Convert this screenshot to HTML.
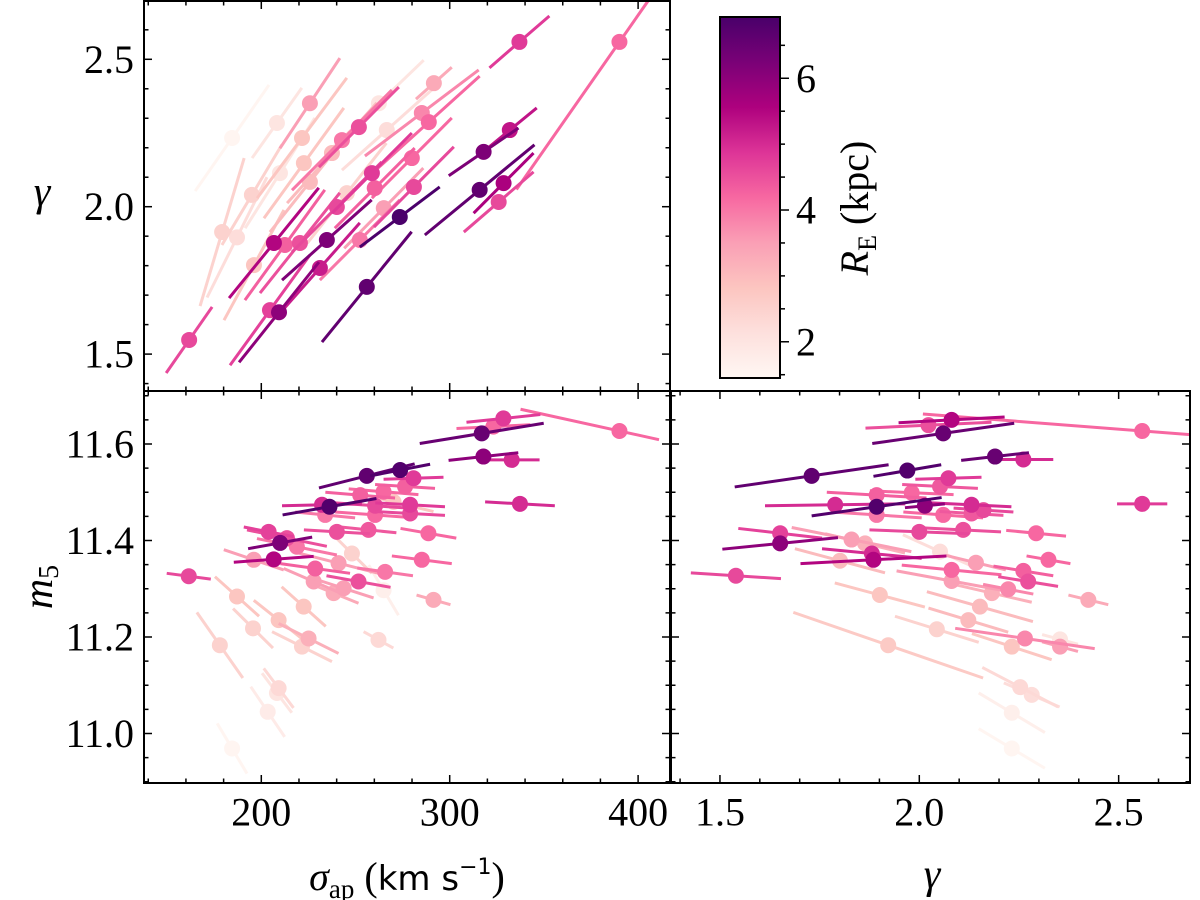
<!DOCTYPE html>
<html><head><meta charset="utf-8">
<style>
html,body{margin:0;padding:0;background:#fff;}
svg{display:block;}
text{font-family:"Liberation Serif","DejaVu Serif",serif;fill:#000;}
</style></head>
<body>
<svg id="fig" width="1200" height="900" viewBox="0 0 1200 900" xmlns="http://www.w3.org/2000/svg">
<defs>
<linearGradient id="cbgrad" x1="0" y1="1" x2="0" y2="0">
<stop offset="0" stop-color="#fff7f3"/><stop offset="0.125" stop-color="#fde0dd"/><stop offset="0.25" stop-color="#fcc5c0"/><stop offset="0.375" stop-color="#fa9fb5"/><stop offset="0.5" stop-color="#f768a1"/><stop offset="0.625" stop-color="#dd3497"/><stop offset="0.75" stop-color="#ae017e"/><stop offset="0.875" stop-color="#7a0177"/><stop offset="1" stop-color="#49006a"/>
</linearGradient>
<clipPath id="c1"><rect x="144" y="1" width="526" height="390"/></clipPath>
<clipPath id="c2"><rect x="144" y="391" width="526" height="392"/></clipPath>
<clipPath id="c3"><rect x="671" y="391" width="519" height="392"/></clipPath>
</defs>
<g id="p1"></g>
<g id="p2"></g>
<g id="p3"></g>
<g id="cb"></g>
<text x="42" y="196" font-size="42" font-style="italic" text-anchor="middle" dominant-baseline="middle">γ</text>
<text transform="translate(42,587) rotate(-90)" font-size="42" text-anchor="middle" dominant-baseline="middle"><tspan font-style="italic">m</tspan><tspan font-size="28" dy="10">5</tspan></text>
<text x="407" y="890" font-size="40" text-anchor="middle"><tspan font-style="italic">σ</tspan><tspan font-size="27" dy="8">ap</tspan><tspan dy="-8"> (</tspan><tspan font-family="DejaVu Sans, sans-serif" font-size="34">km s</tspan><tspan font-family="DejaVu Sans, sans-serif" font-size="22" dy="-16">−1</tspan><tspan dy="16">)</tspan></text>
<text x="932" y="888" font-size="42" font-style="italic" text-anchor="middle">γ</text>
<text transform="translate(868,208) rotate(-90)" font-size="40" text-anchor="middle"><tspan font-style="italic">R</tspan><tspan font-size="26" dy="8">E</tspan><tspan dy="-8"> (kpc)</tspan></text>
</svg>
<script>
// ---------- Panel 1: gamma vs sigma ----------
const p1Sigma=[337.0,390.1,291.6,225.8,262.4,285.2,288.9,184.5,208.3,266.6,251.8,221.6,331.9,318.0,242.8,237.5,222.6,279.9,209.9,315.9,328.6,326.0,260.2,281.0,195.0,225.8,258.7,179.2,187.1,196.1,206.7,212.5,220.5,234.8,231.1,252.3,240.1,256.0,273.5,204.6,209.4,161.7,265.0,245.4];
const p1Gamma=[2.559,2.559,2.419,2.351,2.351,2.318,2.287,2.233,2.284,2.260,2.270,2.233,2.260,2.186,2.226,2.182,2.148,2.165,2.114,2.057,2.080,2.016,2.063,2.067,2.040,2.084,2.114,1.914,1.896,1.802,1.877,1.870,1.877,1.887,1.792,1.887,1.999,1.728,1.965,1.649,1.642,1.548,1.995,2.046];
const p1RE=[4.8,4.2,3.3,3.5,2.0,3.8,4.2,1.5,2.0,2.2,4.5,2.8,5.3,6.2,4.0,3.0,2.8,4.2,2.0,6.6,5.6,4.6,4.3,4.6,2.5,3.0,4.8,2.5,2.2,2.8,5.5,4.3,4.5,6.2,5.2,4.0,4.6,6.6,6.9,4.7,6.0,4.6,3.5,2.5];
const p1ErrSigma=[15.9,15.4,9.5,15.9,23.8,30.2,27.0,19.6,13.2,23.8,21.2,23.8,14.3,18.5,26.5,23.8,21.2,21.2,18.5,29.1,15.9,18.5,21.2,21.2,15.9,21.2,21.2,11.7,15.9,15.9,23.8,21.2,21.2,23.8,21.2,21.2,23.8,23.8,21.2,21.2,21.2,12.2,21.0,21.0];
const p1ErrGamma=[0.088,0.141,0.054,0.153,0.146,0.146,0.156,0.180,0.119,0.136,0.136,0.204,0.075,0.081,0.170,0.170,0.187,0.136,0.187,0.153,0.102,0.102,0.136,0.136,0.170,0.170,0.136,0.251,0.204,0.187,0.187,0.187,0.170,0.136,0.153,0.136,0.153,0.187,0.102,0.187,0.170,0.112,0.136,0.170];
const p1LowerScale={1:3.55};
// ---------- Panel 2: m5 vs sigma ----------
const p2Sigma=[328.5,323.2,317.0,317.9,332.9,256.0,273.7,280.8,276.3,264.9,252.5,232.2,236.2,233.9,260.4,260.4,279.0,279.0,270.2,337.3,240.1,256.9,288.7,203.9,213.6,218.9,206.6,196.0,210.0,161.5,228.6,241.0,248.1,265.7,285.2,227.8,251.6,243.7,238.4,264.9,291.4,187.1,222.5,195.6,209.2,225.1,221.6,262.2,178.0,209.2,208.3,203.4,184.5,390.1];
const p2M5=[11.653,11.636,11.622,11.574,11.567,11.534,11.546,11.529,11.512,11.501,11.494,11.474,11.470,11.453,11.472,11.453,11.474,11.456,11.480,11.476,11.418,11.422,11.415,11.418,11.405,11.387,11.361,11.360,11.395,11.326,11.342,11.353,11.373,11.335,11.360,11.315,11.315,11.301,11.291,11.297,11.277,11.284,11.263,11.218,11.235,11.197,11.180,11.194,11.183,11.094,11.084,11.045,10.969,11.627];
const p2RE=[4.8,4.2,6.5,6.0,5.0,6.6,6.8,4.8,4.3,4.2,4.3,5.0,6.8,4.0,4.6,4.2,4.8,4.6,2.8,5.0,4.5,4.4,4.2,4.7,4.5,4.0,5.5,3.5,6.2,4.6,4.3,3.5,2.5,4.0,4.2,3.5,4.5,3.5,3.3,1.7,3.3,2.8,2.8,2.5,2.8,3.2,2.5,2.3,2.5,2.3,2.0,1.8,1.5,4.2];
const p2ErrSigma=[19.6,19.6,32.9,18.5,14.8,25.4,15.9,15.9,15.9,18.5,18.5,21.2,24.9,15.9,21.2,21.2,18.5,18.5,21.2,18.5,17.5,14.8,14.8,13.2,21.2,21.2,21.2,15.9,17.0,11.7,18.5,21.2,10.6,14.8,15.9,15.9,17.0,15.9,13.2,7.9,9.0,11.7,11.7,10.6,13.2,15.9,15.9,7.9,12.2,7.9,7.9,9.0,7.9,21.0];
const p2ErrM5=[0.008,0.004,0.021,0.008,0,0.025,0.012,0.002,-0.004,-0.006,-0.006,0.002,0.017,-0.006,-0.006,-0.006,-0.004,-0.004,-0.02,-0.004,-0.004,-0.006,-0.01,-0.01,-0.017,-0.017,0.006,-0.021,0.012,-0.006,-0.01,-0.021,-0.041,-0.008,-0.008,-0.027,-0.012,-0.02,-0.021,-0.052,-0.01,-0.041,-0.041,-0.041,-0.041,-0.031,-0.031,-0.017,-0.068,-0.041,-0.041,-0.052,-0.052,-0.018];
const p2LowerScale={53:2.5};
// ---------- Panel 3: m5 vs gamma ----------
const p3Gamma=[2.023,2.081,2.060,2.559,2.190,2.261,1.730,1.970,2.073,2.052,1.981,1.893,1.789,1.893,1.893,2.014,2.060,2.131,2.161,2.131,2.000,2.110,2.293,1.651,1.651,1.830,1.864,1.881,1.885,1.801,1.540,2.052,2.142,2.324,2.081,2.081,2.261,2.273,2.223,2.182,2.424,1.901,2.152,2.123,2.044,2.265,2.232,2.353,2.353,1.922,2.253,2.282,2.232,2.232,2.559];
const p3M5=[11.639,11.650,11.622,11.627,11.574,11.568,11.534,11.545,11.529,11.512,11.499,11.494,11.474,11.470,11.453,11.472,11.453,11.474,11.463,11.456,11.418,11.422,11.415,11.415,11.394,11.402,11.394,11.373,11.360,11.358,11.327,11.377,11.354,11.360,11.339,11.316,11.337,11.315,11.299,11.291,11.277,11.287,11.263,11.235,11.216,11.197,11.180,11.180,11.195,11.183,11.096,11.080,11.043,10.969,11.476];
const p3RE=[4.5,5.5,6.5,4.2,6.5,5.0,6.6,6.8,4.8,4.4,4.2,4.3,5.0,6.8,4.0,6.0,4.2,5.0,4.6,4.4,4.6,4.5,4.2,4.7,6.0,3.5,3.2,5.0,5.5,3.0,4.6,2.2,3.5,4.2,4.2,3.5,4.3,4.5,3.8,3.2,3.3,2.8,3.0,3.0,2.5,3.8,2.8,3.5,2.0,2.7,2.3,2.2,1.7,1.5,4.8];
const p3ErrGamma=[0.158,0.133,0.178,0.125,0.085,0.075,0.193,0.085,0.083,0.095,0.105,0.125,0.176,0.163,0.113,0.05,0.1,0.1,0.075,0.08,0.125,0.095,0.075,0.105,0.145,0.15,0.1,0.125,0.183,0.113,0.113,0.093,0.075,0.055,0.125,0.138,0.075,0.075,0.063,0.1,0.05,0.113,0.133,0.1,0.105,0.175,0.1,0.045,0.045,0.238,0.095,0.07,0.083,0.083,0.063];
const p3ErrM5=[0.006,0.006,0.021,-0.008,0.008,0,0.023,0.012,0.002,-0.004,-0.004,-0.006,0.002,0.019,-0.006,0.004,-0.006,-0.004,-0.004,-0.004,-0.004,-0.004,-0.006,-0.01,0.012,-0.025,-0.02,-0.01,0.008,-0.025,-0.006,-0.035,-0.015,-0.008,-0.01,-0.021,-0.01,-0.01,-0.01,-0.019,-0.01,-0.025,-0.031,-0.025,-0.027,-0.021,-0.027,-0.01,-0.01,-0.068,-0.041,-0.025,-0.041,-0.041,0];
const p3LowerScale={3:4.4};
// ---------- axes / ticks ----------
const sigmaMajor=[200,300,400];
const sigmaMajorLabels=["200","300","400"];
const gammaMajor=[1.5,2.0,2.5];
const gammaMajorLabels=["1.5","2.0","2.5"];
const m5Major=[11.0,11.2,11.4,11.6];
const m5MajorLabels=["11.0","11.2","11.4","11.6"];
const cbMajor=[2,4,6];
const cbMajorLabels=["2","4","6"];
const RE_MIN=1.45, RE_MAX=6.93;

const NS="http://www.w3.org/2000/svg";
function lin(d0,d1,r0,r1){return v=>r0+(v-d0)*(r1-r0)/(d1-d0);}
const xSigma=lin(200,300,261.3,449.7);
const yGammaTop=lin(2.0,2.5,206.7,59.3);
const yM5=lin(11.6,11.0,444,733.5);
const xGamma=lin(2.0,2.5,919.3,1118.65);
const yCB=lin(RE_MIN,RE_MAX,378,17);

const stops=["#fff7f3","#fde0dd","#fcc5c0","#fa9fb5","#f768a1","#dd3497","#ae017e","#7a0177","#49006a"];
function hex(c){return [parseInt(c.slice(1,3),16),parseInt(c.slice(3,5),16),parseInt(c.slice(5,7),16)];}
function cmap(v){
  let t=(v-RE_MIN)/(RE_MAX-RE_MIN);t=Math.max(0,Math.min(1,t));
  const f=t*(stops.length-1);const i=Math.min(stops.length-2,Math.floor(f));const u=f-i;
  const a=hex(stops[i]),b=hex(stops[i+1]);
  return "rgb("+a.map((x,k)=>Math.round(x+(b[k]-x)*u)).join(",")+")";
}
function mk(tag,attrs,parent){const e=document.createElementNS(NS,tag);for(const k in attrs)e.setAttribute(k,attrs[k]);parent.appendChild(e);return e;}

function drawPoints(g,clip,xs,ys,re,ex,ey,lower,fx,fy,name){
  const grp=mk("g",{"clip-path":"url(#"+clip+")"},g);
  
  
  const idx=xs.map((_,i)=>i).sort((a,b)=>re[a]-re[b]);
  idx.forEach(i=>{
    const col=cmap(re[i]);const k=(lower[i]!==undefined)?lower[i]:1;
    const ln=mk("line",{x1:fx(xs[i]-k*ex[i]),y1:fy(ys[i]-k*ey[i]),x2:fx(xs[i]+ex[i]),y2:fy(ys[i]+ey[i]),stroke:col,"stroke-width":3},grp);
    
    
    const c=mk("circle",{cx:fx(xs[i]),cy:fy(ys[i]),r:8,fill:col},grp);
    
    
  });
}
function ticksX(g,fx,vals,y0,y1,len){
  vals.forEach(v=>{const x=fx(v);
    const a=mk("line",{x1:x,y1:y1,x2:x,y2:y1-len,stroke:"#000","stroke-width":1.5},g);
    
    const b=mk("line",{x1:x,y1:y0,x2:x,y2:y0+len,stroke:"#000","stroke-width":1.5},g);
    
  });
}
function ticksY(g,fy,vals,x0,x1,len){
  vals.forEach(v=>{const y=fy(v);
    const a=mk("line",{x1:x0,y1:y,x2:x0+len,y2:y,stroke:"#000","stroke-width":1.5},g);
    
    const b=mk("line",{x1:x1,y1:y,x2:x1-len,y2:y,stroke:"#000","stroke-width":1.5},g);
    
  });
}
function range(a,b,s){const r=[];for(let v=a;v<=b+1e-9;v+=s)r.push(+v.toFixed(4));return r;}
function frame(g,x0,y0,x1,y1){
  const r=mk("rect",{x:x0,y:y0,width:x1-x0,height:y1-y0,fill:"none",stroke:"#000","stroke-width":2},g);
  
}
function label(g,x,y,txt,anchor,name){
  const t=mk("text",{x:x,y:y,"font-size":40,"text-anchor":anchor,"dominant-baseline":"central"},g);
  t.textContent=txt;
  
  
}

// Panel 1
const g1=document.getElementById("p1");
drawPoints(g1,"c1",p1Sigma,p1Gamma,p1RE,p1ErrSigma,p1ErrGamma,p1LowerScale,xSigma,yGammaTop,"p1");
ticksX(g1,xSigma,range(140,400,20).filter(v=>v%100!==0),1,391,4.5);
ticksX(g1,xSigma,sigmaMajor,1,391,8);
ticksY(g1,yGammaTop,range(1.4,2.6,0.1).filter(v=>Math.abs(v*2-Math.round(v*2))>1e-6),144,670,4.5);
ticksY(g1,yGammaTop,gammaMajor,144,670,8);
gammaMajor.forEach((v,i)=>label(g1,134,yGammaTop(v),gammaMajorLabels[i],"end","y-tick-label"));
frame(g1,144,1,670,391);

// Panel 2
const g2=document.getElementById("p2");
drawPoints(g2,"c2",p2Sigma,p2M5,p2RE,p2ErrSigma,p2ErrM5,p2LowerScale,xSigma,yM5,"p2");
ticksX(g2,xSigma,range(140,400,20).filter(v=>v%100!==0),391,783,4.5);
ticksX(g2,xSigma,sigmaMajor,391,783,8);
ticksY(g2,yM5,range(10.9,11.7,0.05).filter(v=>Math.abs(v*5-Math.round(v*5))>1e-6),144,670,4.5);
ticksY(g2,yM5,m5Major,144,670,8);
m5Major.forEach((v,i)=>label(g2,134,yM5(v),m5MajorLabels[i],"end","y-tick-label"));
sigmaMajor.forEach((v,i)=>label(g2,xSigma(v),812,sigmaMajorLabels[i],"middle","x-tick-label"));
frame(g2,144,391,670,783);

// Panel 3
const g3=document.getElementById("p3");
drawPoints(g3,"c3",p3Gamma,p3M5,p3RE,p3ErrGamma,p3ErrM5,p3LowerScale,xGamma,yM5,"p3");
ticksX(g3,xGamma,range(1.4,2.6,0.1).filter(v=>Math.abs(v*2-Math.round(v*2))>1e-6),391,783,4.5);
ticksX(g3,xGamma,gammaMajor,391,783,8);
ticksY(g3,yM5,range(10.9,11.7,0.05).filter(v=>Math.abs(v*5-Math.round(v*5))>1e-6),671,1190,4.5);
ticksY(g3,yM5,m5Major,671,1190,8);
gammaMajor.forEach((v,i)=>label(g3,xGamma(v),812,gammaMajorLabels[i],"middle","x-tick-label"));
frame(g3,671,391,1190,783);

// Colorbar
const gc=document.getElementById("cb");
const bar=mk("rect",{x:720,y:17,width:60,height:361,fill:"url(#cbgrad)",stroke:"#000","stroke-width":2},gc);


range(1.5,6.5,0.5).forEach(v=>{const y=yCB(v);const maj=cbMajor.includes(v);
  const t=mk("line",{x1:780,y1:y,x2:maj?789:785,y2:y,stroke:"#000","stroke-width":1.5},gc);
  });
cbMajor.forEach((v,i)=>label(gc,796,yCB(v),cbMajorLabels[i],"start","colorbar-tick-label"));
</script>
</body></html>
